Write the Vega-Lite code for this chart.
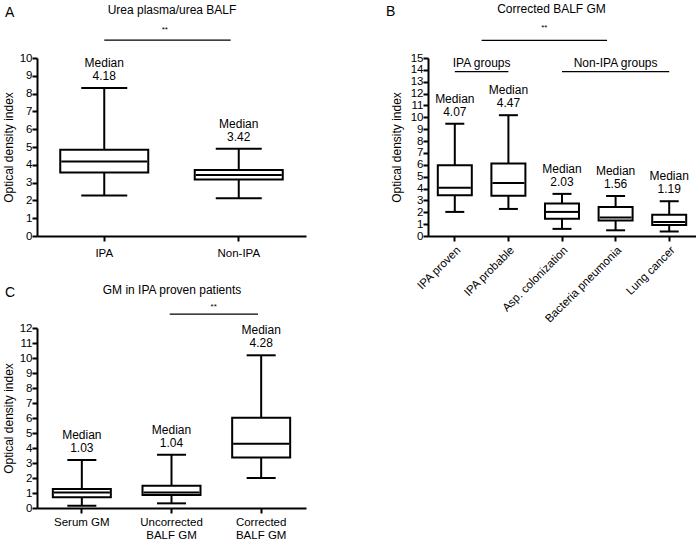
{
"$schema": "https://vega.github.io/schema/vega-lite/v6.json",
"background": "white",
"padding": {"left": 2, "top": 2, "right": 0, "bottom": 0},
"columns": 2,
"align": "each",
"bounds": "flush",
"spacing": {"row": 92, "column": 122},
"config": {
  "font": "Liberation Sans",
  "view": {"stroke": null},
  "axis": {"domainColor": "black", "domainWidth": 2, "tickColor": "black", "tickWidth": 2, "tickSize": 5, "labelColor": "black", "labelFontSize": 11.5, "labelOverlap": false, "titleColor": "black", "titleFontSize": 12, "titleFontWeight": "normal", "grid": false, "labelFont": "Liberation Sans", "titleFont": "Liberation Sans"},
  "title": {"fontSize": 14, "fontWeight": "normal", "color": "black", "anchor": "start", "frame": "group", "baseline": "alphabetic", "offset": 0, "font": "Liberation Sans"},
  "text": {"fontSize": 12, "color": "black", "baseline": "alphabetic", "font": "Liberation Sans"}
},
"concat": [
{
  "width": 269, "height": 178,
  "title": {"text": "A", "dx": -32, "dy": 21},
  "data": {"values": [
    {"group": "IPA", "lower": 2.28, "q1": 3.57, "median": 4.18, "q3": 4.85, "upper": 8.32},
    {"group": "Non-IPA", "lower": 2.12, "q1": 3.17, "median": 3.42, "q3": 3.71, "upper": 4.9}
  ]},
  "resolve": {"axis": {"x": "independent", "y": "independent"}},
  "layer": [
    {"mark": {"type": "rule", "color": "black", "strokeWidth": 2},
     "encoding": {
       "x": {"field": "group", "type": "nominal", "scale": {"domain": ["IPA", "Non-IPA"], "paddingInner": 0, "paddingOuter": 0}, "axis": {"title": null, "labelAngle": 0, "labelPadding": 6}},
       "y": {"field": "lower", "type": "quantitative", "scale": {"domain": [0, 10], "nice": false}, "axis": {"title": "Optical density index", "values": [0,1,2,3,4,5,6,7,8,9,10], "labelPadding": 0, "titlePadding": 4}},
       "y2": {"field": "upper"}}},
    {"mark": {"type": "bar", "fill": "white", "stroke": "black", "strokeWidth": 2, "size": 88},
     "encoding": {"x": {"field": "group", "type": "nominal", "axis": null}, "y": {"field": "q1", "type": "quantitative", "axis": null}, "y2": {"field": "q3"}}},
    {"mark": {"type": "tick", "color": "black", "thickness": 2, "size": 86, "opacity": 1},
     "encoding": {"x": {"field": "group", "type": "nominal", "axis": null}, "y": {"field": "median", "type": "quantitative", "axis": null}}},
    {"mark": {"type": "tick", "color": "black", "thickness": 2, "size": 46, "opacity": 1},
     "encoding": {"x": {"field": "group", "type": "nominal", "axis": null}, "y": {"field": "lower", "type": "quantitative", "axis": null}}},
    {"mark": {"type": "tick", "color": "black", "thickness": 2, "size": 46, "opacity": 1},
     "encoding": {"x": {"field": "group", "type": "nominal", "axis": null}, "y": {"field": "upper", "type": "quantitative", "axis": null}}},
    {"mark": {"type": "text", "dy": -21},
     "encoding": {"x": {"field": "group", "type": "nominal", "axis": {"orient": "top", "title": "Urea plasma/urea BALF", "labels": false, "ticks": false, "domain": false, "titlePadding": 45, "titleBaseline": "alphabetic"}}, "y": {"field": "upper", "type": "quantitative", "axis": null}, "text": {"value": "Median"}}},
    {"mark": {"type": "text", "dy": -8},
     "encoding": {"x": {"field": "group", "type": "nominal", "axis": null}, "y": {"field": "upper", "type": "quantitative", "axis": null}, "text": {"field": "median", "type": "quantitative", "format": ".2f"}}},
    {"data": {"values": [{}]},
     "mark": {"type": "rule", "color": "black", "strokeWidth": 1.3},
     "encoding": {"x": {"datum": "IPA", "type": "nominal", "axis": null}, "x2": {"datum": "Non-IPA", "bandPosition": 0.44}, "y": {"datum": 11, "type": "quantitative", "axis": null}}},
    {"data": {"values": [{}]},
     "mark": {"type": "text", "fontSize": 8},
     "encoding": {"x": {"datum": "IPA", "type": "nominal", "bandPosition": 0.95, "axis": null}, "y": {"datum": 11.46, "type": "quantitative", "axis": null}, "text": {"value": "**"}}}
  ]
},
{
  "width": 268, "height": 178,
  "title": {"text": "B", "dx": -42, "dy": 21},
  "data": {"values": [
    {"group": "IPA proven", "lower": 2.03, "q1": 3.43, "median": 4.07, "q3": 5.96, "upper": 9.46},
    {"group": "IPA probable", "lower": 2.28, "q1": 3.4, "median": 4.47, "q3": 6.1, "upper": 10.18},
    {"group": "Asp. colonization", "lower": 0.6, "q1": 1.45, "median": 2.03, "q3": 2.74, "upper": 3.55},
    {"group": "Bacteria pneumonia", "lower": 0.48, "q1": 1.3, "median": 1.56, "q3": 2.45, "upper": 3.37},
    {"group": "Lung cancer", "lower": 0.38, "q1": 0.92, "median": 1.19, "q3": 1.8, "upper": 2.93}
  ]},
  "resolve": {"axis": {"x": "independent", "y": "independent"}},
  "layer": [
    {"mark": {"type": "rule", "color": "black", "strokeWidth": 2},
     "encoding": {
       "x": {"field": "group", "type": "nominal", "scale": {"domain": ["IPA proven", "IPA probable", "Asp. colonization", "Bacteria pneumonia", "Lung cancer"], "paddingInner": 0, "paddingOuter": 0}, "axis": {"title": null, "labelAngle": -45, "labelPadding": 3}},
       "y": {"field": "lower", "type": "quantitative", "scale": {"domain": [0, 15], "nice": false}, "axis": {"title": "Optical density index", "values": [0,1,2,3,4,5,6,7,8,9,10,11,12,13,14,15], "labelPadding": 0, "titlePadding": 7}},
       "y2": {"field": "upper"}}},
    {"mark": {"type": "bar", "fill": "white", "stroke": "black", "strokeWidth": 2, "size": 34},
     "encoding": {"x": {"field": "group", "type": "nominal", "axis": null}, "y": {"field": "q1", "type": "quantitative", "axis": null}, "y2": {"field": "q3"}}},
    {"mark": {"type": "tick", "color": "black", "thickness": 2, "size": 32, "opacity": 1},
     "encoding": {"x": {"field": "group", "type": "nominal", "axis": null}, "y": {"field": "median", "type": "quantitative", "axis": null}}},
    {"mark": {"type": "tick", "color": "black", "thickness": 2, "size": 19, "opacity": 1},
     "encoding": {"x": {"field": "group", "type": "nominal", "axis": null}, "y": {"field": "lower", "type": "quantitative", "axis": null}}},
    {"mark": {"type": "tick", "color": "black", "thickness": 2, "size": 19, "opacity": 1},
     "encoding": {"x": {"field": "group", "type": "nominal", "axis": null}, "y": {"field": "upper", "type": "quantitative", "axis": null}}},
    {"mark": {"type": "text", "dy": -21},
     "encoding": {"x": {"field": "group", "type": "nominal", "axis": {"orient": "top", "title": "Corrected BALF GM", "labels": false, "ticks": false, "domain": false, "titlePadding": 46, "titleBaseline": "alphabetic", "titleX": 123}}, "y": {"field": "upper", "type": "quantitative", "axis": null}, "text": {"value": "Median"}}},
    {"mark": {"type": "text", "dy": -8},
     "encoding": {"x": {"field": "group", "type": "nominal", "axis": null}, "y": {"field": "upper", "type": "quantitative", "axis": null}, "text": {"field": "median", "type": "quantitative", "format": ".2f"}}},
    {"data": {"values": [{}]},
     "mark": {"type": "rule", "color": "black", "strokeWidth": 1.3},
     "encoding": {"x": {"datum": "IPA proven", "type": "nominal", "bandPosition": 1, "axis": null}, "x2": {"datum": "Bacteria pneumonia", "bandPosition": 0.34}, "y": {"datum": 16.48, "type": "quantitative", "axis": null}}},
    {"data": {"values": [{}]},
     "mark": {"type": "text", "fontSize": 8},
     "encoding": {"x": {"datum": "Asp. colonization", "type": "nominal", "bandPosition": 0.17, "axis": null}, "y": {"datum": 17.4, "type": "quantitative", "axis": null}, "text": {"value": "**"}}},
    {"data": {"values": [{}]},
     "mark": {"type": "rule", "color": "black", "strokeWidth": 1.3},
     "encoding": {"x": {"datum": "IPA proven", "type": "nominal", "axis": null}, "x2": {"datum": "IPA probable"}, "y": {"datum": 13.85, "type": "quantitative", "axis": null}}},
    {"data": {"values": [{}]},
     "mark": {"type": "text"},
     "encoding": {"x": {"datum": "IPA proven", "type": "nominal", "bandPosition": 1, "axis": null}, "y": {"datum": 14.25, "type": "quantitative", "axis": null}, "text": {"value": "IPA groups"}}},
    {"data": {"values": [{}]},
     "mark": {"type": "rule", "color": "black", "strokeWidth": 1.3},
     "encoding": {"x": {"datum": "Asp. colonization", "type": "nominal", "axis": null}, "x2": {"datum": "Lung cancer"}, "y": {"datum": 13.85, "type": "quantitative", "axis": null}}},
    {"data": {"values": [{}]},
     "mark": {"type": "text"},
     "encoding": {"x": {"datum": "Bacteria pneumonia", "type": "nominal", "axis": null}, "y": {"datum": 14.25, "type": "quantitative", "axis": null}, "text": {"value": "Non-IPA groups"}}}
  ]
},
{
  "width": 269, "height": 180,
  "title": {"text": "C", "dx": -32, "dy": 21},
  "data": {"values": [
    {"group": "Serum GM", "lower": 0.15, "q1": 0.71, "median": 1.03, "q3": 1.27, "upper": 3.2},
    {"group": "Uncorrected BALF GM", "lower": 0.31, "q1": 0.86, "median": 1.04, "q3": 1.49, "upper": 3.55},
    {"group": "Corrected BALF GM", "lower": 2.0, "q1": 3.36, "median": 4.28, "q3": 6.02, "upper": 10.18}
  ]},
  "resolve": {"axis": {"x": "independent", "y": "independent"}},
  "layer": [
    {"mark": {"type": "rule", "color": "black", "strokeWidth": 2},
     "encoding": {
       "x": {"field": "group", "type": "nominal", "scale": {"domain": ["Serum GM", "Uncorrected BALF GM", "Corrected BALF GM"], "paddingInner": 0, "paddingOuter": 0}, "axis": {"title": null, "labelAngle": 0, "labelPadding": 3, "labelLineHeight": 13, "labelExpr": "datum.value == 'Serum GM' ? 'Serum GM' : [replace(datum.value, ' BALF GM', ''), 'BALF GM']"}},
       "y": {"field": "lower", "type": "quantitative", "scale": {"domain": [0, 12], "nice": false}, "axis": {"title": "Optical density index", "values": [0,1,2,3,4,5,6,7,8,9,10,11,12], "labelPadding": 0, "titlePadding": 4}},
       "y2": {"field": "upper"}}},
    {"mark": {"type": "bar", "fill": "white", "stroke": "black", "strokeWidth": 2, "size": 58},
     "encoding": {"x": {"field": "group", "type": "nominal", "axis": null}, "y": {"field": "q1", "type": "quantitative", "axis": null}, "y2": {"field": "q3"}}},
    {"mark": {"type": "tick", "color": "black", "thickness": 2, "size": 56, "opacity": 1},
     "encoding": {"x": {"field": "group", "type": "nominal", "axis": null}, "y": {"field": "median", "type": "quantitative", "axis": null}}},
    {"mark": {"type": "tick", "color": "black", "thickness": 2, "size": 29, "opacity": 1},
     "encoding": {"x": {"field": "group", "type": "nominal", "axis": null}, "y": {"field": "lower", "type": "quantitative", "axis": null}}},
    {"mark": {"type": "tick", "color": "black", "thickness": 2, "size": 29, "opacity": 1},
     "encoding": {"x": {"field": "group", "type": "nominal", "axis": null}, "y": {"field": "upper", "type": "quantitative", "axis": null}}},
    {"mark": {"type": "text", "dy": -21},
     "encoding": {"x": {"field": "group", "type": "nominal", "axis": {"orient": "top", "title": "GM in IPA proven patients", "labels": false, "ticks": false, "domain": false, "titlePadding": 35, "titleBaseline": "alphabetic"}}, "y": {"field": "upper", "type": "quantitative", "axis": null}, "text": {"value": "Median"}}},
    {"mark": {"type": "text", "dy": -8},
     "encoding": {"x": {"field": "group", "type": "nominal", "axis": null}, "y": {"field": "upper", "type": "quantitative", "axis": null}, "text": {"field": "median", "type": "quantitative", "format": ".2f"}}},
    {"data": {"values": [{}]},
     "mark": {"type": "rule", "color": "black", "strokeWidth": 1.3},
     "encoding": {"x": {"datum": "Uncorrected BALF GM", "type": "nominal", "bandPosition": 0.48, "axis": null}, "x2": {"datum": "Corrected BALF GM", "bandPosition": 0.465}, "y": {"datum": 12.93, "type": "quantitative", "axis": null}}},
    {"data": {"values": [{}]},
     "mark": {"type": "text", "fontSize": 8},
     "encoding": {"x": {"datum": "Uncorrected BALF GM", "type": "nominal", "bandPosition": 0.97, "axis": null}, "y": {"datum": 13.24, "type": "quantitative", "axis": null}, "text": {"value": "**"}}}
  ]
}
]
}
